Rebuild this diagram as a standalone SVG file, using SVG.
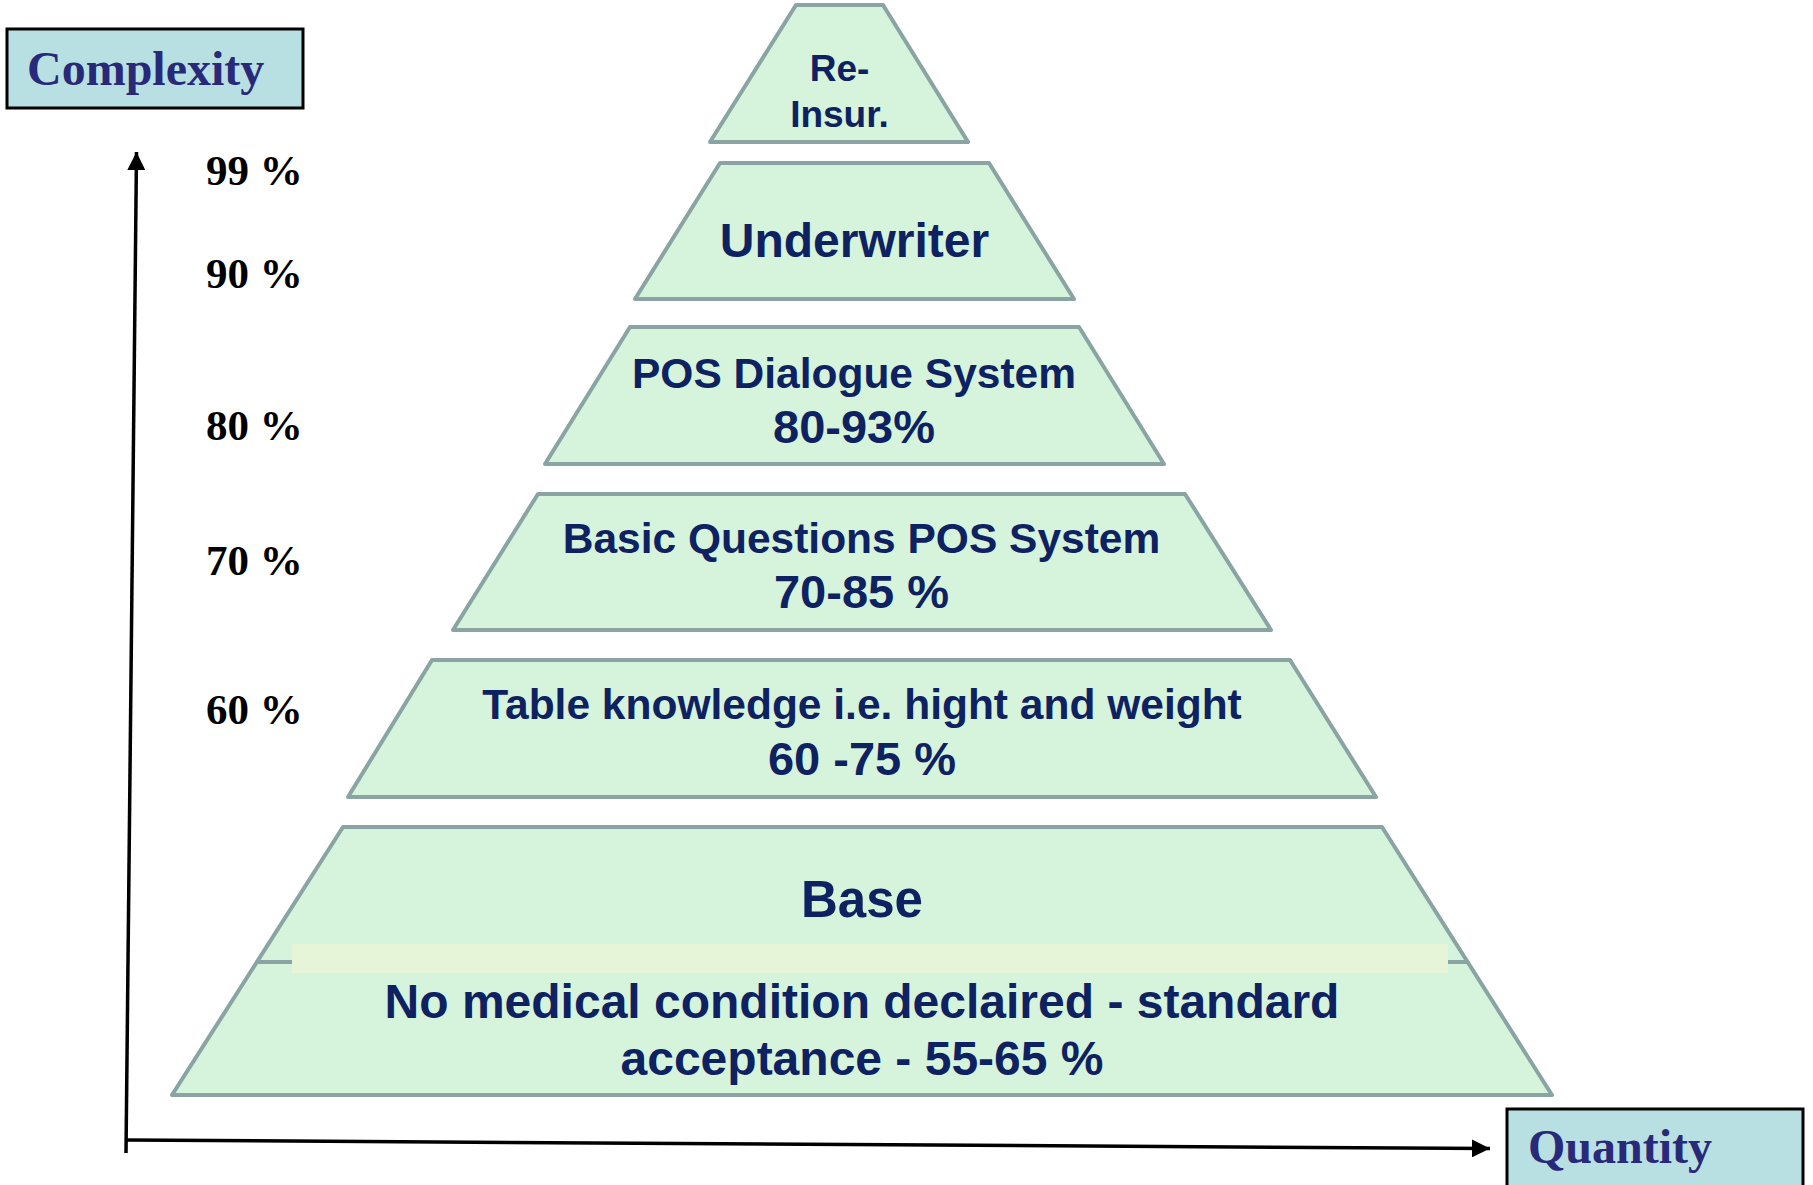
<svg xmlns="http://www.w3.org/2000/svg" width="1813" height="1185" viewBox="0 0 1813 1185">
<defs>
<style>
.tier{fill:#D6F3DC;stroke:#8AA3A3;stroke-width:4;stroke-linejoin:round}
.lbl{font-family:"Liberation Sans",Arial,sans-serif;font-weight:bold;fill:#0E2262;text-anchor:middle}
.pct{font-family:"Liberation Serif","Times New Roman",serif;font-weight:bold;font-size:43px;fill:#000}
.axlbl{font-family:"Liberation Serif","Times New Roman",serif;font-weight:bold;font-size:48px;fill:#29297A}
.axbox{fill:#B8E0E3;stroke:#000;stroke-width:3}
.axis{stroke:#000;stroke-width:3.5;fill:none}
</style>
<marker id="ah" viewBox="0 0 10 10" refX="10" refY="5" markerUnits="userSpaceOnUse" markerWidth="18" markerHeight="18" orient="auto">
<path d="M0,0 L10,5 L0,10 z" fill="#000"/>
</marker>
</defs>
<rect width="1813" height="1185" fill="#fff"/>

<g id="complexity-label">
<rect class="axbox" x="7" y="29" width="296" height="79"/>
<text class="axlbl" x="27" y="85">Complexity</text>
</g>
<g id="quantity-label">
<rect class="axbox" x="1507" y="1109" width="296" height="90"/>
<text class="axlbl" x="1528" y="1163">Quantity</text>
</g>

<g id="connectors">
<line class="axis" x1="126" y1="1153" x2="136.5" y2="152" marker-end="url(#ah)"/>
<line class="axis" x1="126" y1="1140" x2="1490" y2="1148.5" marker-end="url(#ah)"/>
</g>

<g id="scale">
<text class="pct" x="206" y="185">99 %</text>
<text class="pct" x="206" y="288">90 %</text>
<text class="pct" x="206" y="440">80 %</text>
<text class="pct" x="206" y="575">70 %</text>
<text class="pct" x="206" y="724">60 %</text>
</g>

<g id="reinsur">
<polygon class="tier" points="796,5 883,5 968,142 710,142"/>
<text class="lbl" font-size="37" x="839.5" y="81">Re-</text>
<text class="lbl" font-size="37" x="839.5" y="127">Insur.</text>
</g>

<g id="underwriter">
<polygon class="tier" points="720,163 989,163 1074,299 635,299"/>
<text class="lbl" font-size="48" x="854.5" y="257">Underwriter</text>
</g>

<g id="pos-dialogue">
<polygon class="tier" points="630,327 1079,327 1164,464 545,464"/>
<text class="lbl" font-size="42.5" x="854" y="388">POS Dialogue System</text>
<text class="lbl" font-size="47" x="854" y="443">80-93%</text>
</g>

<g id="basic-questions">
<polygon class="tier" points="538,494 1185,494 1271,630 453,630"/>
<text class="lbl" font-size="42.5" x="861.5" y="553">Basic Questions POS System</text>
<text class="lbl" font-size="47" x="861.5" y="608">70-85 %</text>
</g>

<g id="table-knowledge">
<polygon class="tier" points="432,660 1290,660 1376,797 348,797"/>
<text class="lbl" font-size="42.5" x="862" y="719">Table knowledge i.e. hight and weight</text>
<text class="lbl" font-size="47" x="862" y="775">60 -75 %</text>
</g>

<g id="base">
<polygon class="tier" points="343,827 1382,827 1552,1095 172,1095"/>
<line x1="257" y1="962" x2="1468" y2="962" stroke="#8AA3A3" stroke-width="4"/>
<rect x="292" y="944" width="1156" height="29" fill="#E6F4D7"/>
<text class="lbl" font-size="51" x="862" y="917">Base</text>
<text class="lbl" font-size="48" x="862" y="1018">No medical condition declaired - standard</text>
<text class="lbl" font-size="48" x="862" y="1075">acceptance - 55-65 %</text>
</g>
</svg>
